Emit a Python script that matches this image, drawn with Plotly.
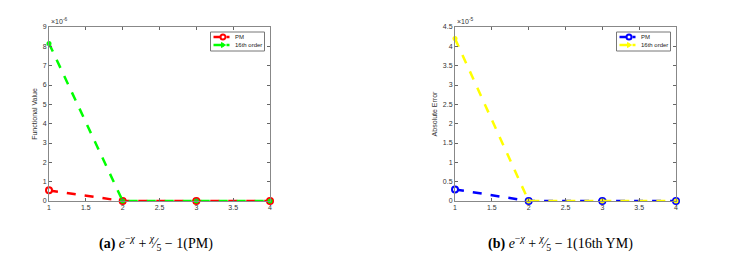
import plotly.graph_objects as go

# Data
iters = [1, 2, 3, 4]
pm_a = [0.55e-6, 0.0, 0.0, 0.0]
ym_a = [8.15e-6, 0.0, 0.0, 0.0]
pm_b = [0.30e-5, 0.0, 0.0, 0.0]
ym_b = [4.20e-5, 0.0, 0.0, 0.0]
series_names = ["PM", "16th order"]
xticks = [1, 1.5, 2, 2.5, 3, 3.5, 4]
xticktext = ["1", "1.5", "2", "2.5", "3", "3.5", "4"]
yticks_a = [i * 1e-6 for i in range(10)]
yticktext_a = [str(i) for i in range(10)]
yticks_b = [i * 0.5e-5 for i in range(10)]
yticktext_b = ["0", "0.5", "1", "1.5", "2", "2.5", "3", "3.5", "4", "4.5"]

W, H = 735, 268
def px(x): return x / W
def py(y): return 1 - y / H

RED, GREEN, BLUE, YELLOW = "#ff0000", "#00ff00", "#0000ff", "#ffff00"

fig = go.Figure()
def add_pair(xa, ya, pm, ym, c1, c2):
    fig.add_trace(go.Scatter(x=iters, y=pm, name=series_names[0], mode="lines+markers",
        line=dict(color=c1, width=2.5, dash="dash"),
        marker=dict(symbol="circle", size=6, color="white", line=dict(color=c1, width=2)),
        xaxis=xa, yaxis=ya, showlegend=False, cliponaxis=False))
    fig.add_trace(go.Scatter(x=iters, y=ym, name=series_names[1], mode="lines+markers",
        line=dict(color=c2, width=2.5, dash="dash"),
        marker=dict(symbol="circle", size=5, color=c2),
        xaxis=xa, yaxis=ya, showlegend=False, cliponaxis=False))

add_pair("x", "y", pm_a, ym_a, RED, GREEN)
add_pair("x2", "y2", pm_b, ym_b, BLUE, YELLOW)

axcommon = dict(showgrid=False, zeroline=False, showline=True, linecolor="#888888",
                linewidth=1, mirror="ticks", ticks="inside", ticklen=3, tickcolor="#666666",
                automargin=False,
                tickfont=dict(family="Liberation Sans", size=7, color="#333333"))

fig.update_layout(
    width=W, height=H, margin=dict(l=0, r=0, t=0, b=0, autoexpand=False),
    paper_bgcolor="white", plot_bgcolor="white", showlegend=False,
    xaxis=dict(domain=[px(49), px(270)], range=[1, 4], tickvals=xticks, ticktext=xticktext,
               anchor="y", **axcommon),
    yaxis=dict(domain=[py(201), py(27)], range=[0, 9e-6], tickvals=yticks_a, ticktext=yticktext_a,
               anchor="x", title=dict(text="Functional Value", standoff=4,
               font=dict(family="Liberation Sans", size=7, color="#333333")), **axcommon),
    xaxis2=dict(domain=[px(455), px(676)], range=[1, 4], tickvals=xticks, ticktext=xticktext,
                anchor="y2", **axcommon),
    yaxis2=dict(domain=[py(201), py(27)], range=[0, 4.5e-5], tickvals=yticks_b, ticktext=yticktext_b,
                anchor="x2", title=dict(text="Absolute Error", standoff=4,
                font=dict(family="Liberation Sans", size=7, color="#333333")), **axcommon),
)

# Legend boxes (drawn as paper-space shapes, MATLAB style)
def legend_box(x0, y0, c1, c2):
    x1, y1 = x0 + 54, y0 + 19
    fig.add_shape(type="rect", xref="paper", yref="paper", x0=px(x0), x1=px(x1), y0=py(y1), y1=py(y0),
                  line=dict(color="#777777", width=1), fillcolor="white", layer="above")
    rows = [(y0 + 5, c1, "circle"), (y0 + 13, c2, "tri")]
    for (ry, c, kind), name in zip(rows, series_names):
        fig.add_shape(type="line", xref="paper", yref="paper", x0=px(x0 + 3), x1=px(x0 + 13),
                      y0=py(ry), y1=py(ry), line=dict(color=c, width=2.5), layer="above")
        fig.add_shape(type="line", xref="paper", yref="paper", x0=px(x0 + 16), x1=px(x0 + 19),
                      y0=py(ry), y1=py(ry), line=dict(color=c, width=2.5), layer="above")
        if kind == "circle":
            fig.add_shape(type="circle", xref="paper", yref="paper", x0=px(x0 + 10), x1=px(x0 + 15),
                          y0=py(ry + 2.5), y1=py(ry - 2.5), line=dict(color=c, width=2),
                          fillcolor="white", layer="above")
        else:
            fig.add_shape(type="path", xref="paper", yref="paper",
                          path=f"M {px(x0+11)},{py(ry-2.5)} L {px(x0+15)},{py(ry)} L {px(x0+11)},{py(ry+2.5)} Z",
                          line=dict(color=c, width=1), fillcolor=c, layer="above")
        fig.add_annotation(x=px(x0 + 22), y=py(ry), xref="paper", yref="paper", xanchor="left",
                           yanchor="middle", text=name, showarrow=False,
                           font=dict(family="Liberation Sans", size=6, color="#222222"))

legend_box(210.5, 32, RED, GREEN)
legend_box(616.5, 32, BLUE, YELLOW)

fig.add_annotation(x=px(49), y=py(27), xref="paper", yref="paper", xanchor="left", yanchor="bottom",
                   text="×10<sup>-6</sup>", showarrow=False,
                   font=dict(family="Liberation Sans", size=7, color="#333333"))
fig.add_annotation(x=px(455), y=py(27), xref="paper", yref="paper", xanchor="left", yanchor="bottom",
                   text="×10<sup>-5</sup>", showarrow=False,
                   font=dict(family="Liberation Sans", size=7, color="#333333"))

cap_font = dict(family="Liberation Serif", size=14, color="black")
fig.add_annotation(x=px(156), y=py(243), xref="paper", yref="paper", xanchor="center", yanchor="middle",
                   text="<b>(a)</b> <i>e</i><sup>−<i>χ</i></sup> + <sup><i>χ</i></sup>⁄<sub>5</sub> − 1(PM)",
                   showarrow=False, font=cap_font)
fig.add_annotation(x=px(560), y=py(243), xref="paper", yref="paper", xanchor="center", yanchor="middle",
                   text="<b>(b)</b> <i>e</i><sup>−<i>χ</i></sup> + <sup><i>χ</i></sup>⁄<sub>5</sub> − 1(16th YM)",
                   showarrow=False, font=cap_font)

fig.write_html("out.html", config={"displayModeBar": False},
               post_script="document.body.style.margin='0';document.body.style.overflow='hidden';")
